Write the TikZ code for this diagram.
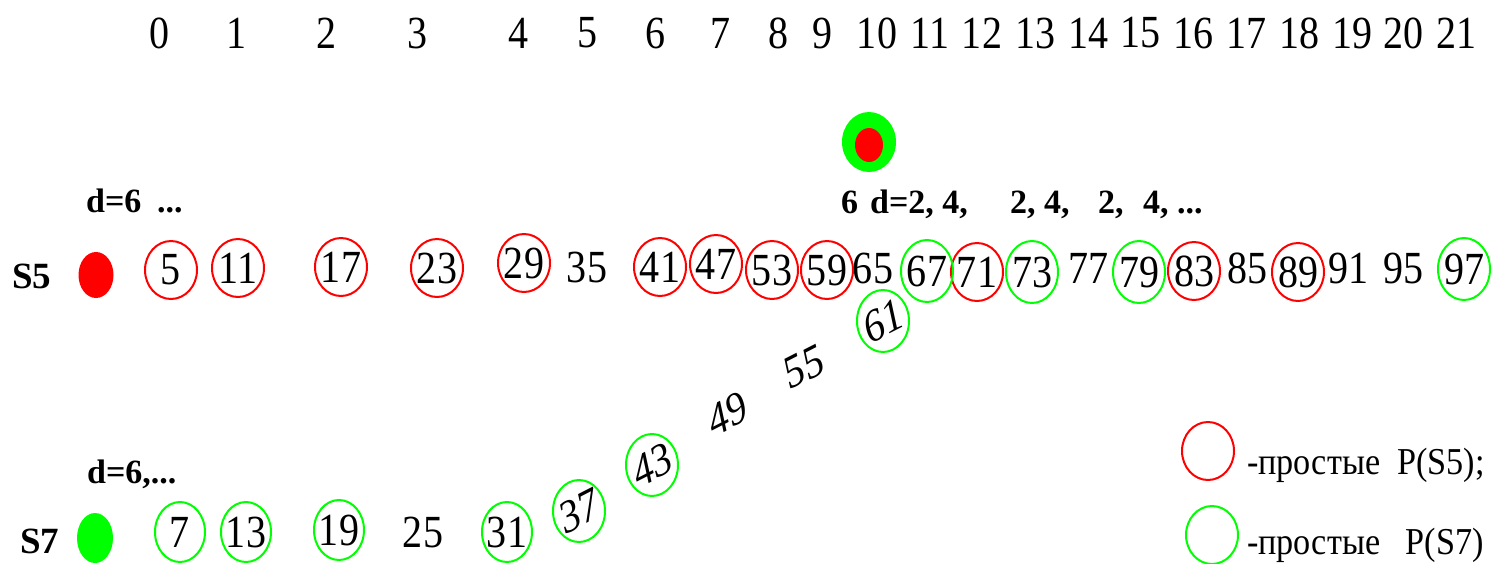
\documentclass[tikz,border=0pt]{standalone}
\usepackage{fontspec}
\setmainfont{Liberation Serif}
\begin{document}
\begin{tikzpicture}[x=1pt,y=-1pt,
  num/.style={font=\fontsize{46}{50}\selectfont, inner sep=0pt, xscale=0.87},
  dnum/.style={font=\fontsize{46}{50}\selectfont\itshape, inner sep=0pt, xscale=0.87, rotate=24},
  blab/.style={font=\fontsize{34}{38}\selectfont\bfseries, inner sep=0pt, anchor=base west},
  slab/.style={font=\fontsize{37}{40}\selectfont\bfseries, inner sep=0pt, anchor=base west},
  leg/.style={font=\fontsize{38}{42}\selectfont, inner sep=0pt, xscale=0.9, anchor=base west},
  rc/.style={draw=red, line width=2pt},
  gc/.style={draw=green, line width=2pt}]
\useasboundingbox (0,0) rectangle (1492,563);
% top index row
\foreach \t/\x in {0/160,1/237,2/327,3/418,4/518,5/587,6/655,7/720,8/778,9/822,10/877,11/930,12/982,13/1035,14/1088,15/1140,16/1193,17/1246,18/1299,19/1352,20/1403,21/1456}
  \node[num] (t\t) at (\x,33) {\t};
% target marker
\fill[green] (869,142) ellipse [x radius=27pt, y radius=30pt];
\fill[red] (869,145) ellipse [x radius=14pt, y radius=17pt];
% S5 row
\node[slab] (s5) at (12,288) {S5};
\fill[red] (96,275) ellipse [x radius=17.5pt, y radius=23pt];
\node[blab] (d5) at (86,212) {d=6};
\node[blab] (d5b) at (157,212) {...};
\node[blab] (six) at (841,213) {6};
\node[blab] (d5c) at (870,213) {d=2, 4,};
\node[blab] (d5d) at (1010,213) {2, 4,};
\node[blab] (d5e) at (1098,213) {2,};
\node[blab] (d5f) at (1143,213) {4, ...};
\foreach \n/\x/\y in {5/171/270,11/238/268,17/341/267,23/437/268,29/524/263,35/587/267,41/660/267,47/716/264,53/772/270,59/827/270,65/873/268,67/927/271,71/977/272,73/1032/272,77/1088/268,79/1139/272,83/1194/271,85/1247/268,89/1298/272,91/1348/268,95/1403/268,97/1464/269}
  \node[num] (r\n) at (\x,\y) {\n};
\foreach \n in {5,11,17,23,29,41,47,53,59,71,83,89}
  \draw[rc] (r\n) ellipse [x radius=26pt, y radius=29pt];
\foreach \n in {67,73,79,97}
  \draw[gc] (r\n) ellipse [x radius=26pt, y radius=31pt];
% S7 row
\node[slab] (s7) at (20,553) {S7};
\fill[green] (95,538) ellipse [x radius=18pt, y radius=25pt];
\node[blab] (d7) at (87,483) {d=6,...};
\foreach \n/\x/\y in {7/180/532,13/246/532,19/339/530,25/423/532,31/507/532}
  \node[num] (q\n) at (\x,\y) {\n};
\foreach \n in {7,13,19,31}
  \draw[gc] (q\n) ellipse [x radius=25pt, y radius=30pt];
% diagonal
\foreach \n/\x/\y in {37/579/511,43/652/465,49/727/414,55/804/367,61/883/321}
  \node[dnum] (g\n) at (\x,\y) {\n};
\foreach \n in {37,43,61}
  \draw[gc] (g\n) ellipse [x radius=26pt, y radius=31pt];
% legend
\coordinate (lr) at (1208,451);
\coordinate (lg) at (1212,535);
\draw[rc] (lr) ellipse [x radius=26pt, y radius=29pt];
\draw[gc] (lg) ellipse [x radius=26pt, y radius=29pt];
\node[leg] (l1) at (1247,474) {-простые\ \ P(S5);};
\node[leg] (l2) at (1247,554) {-простые\ \ \ P(S7)};
\end{tikzpicture}
\end{document}
